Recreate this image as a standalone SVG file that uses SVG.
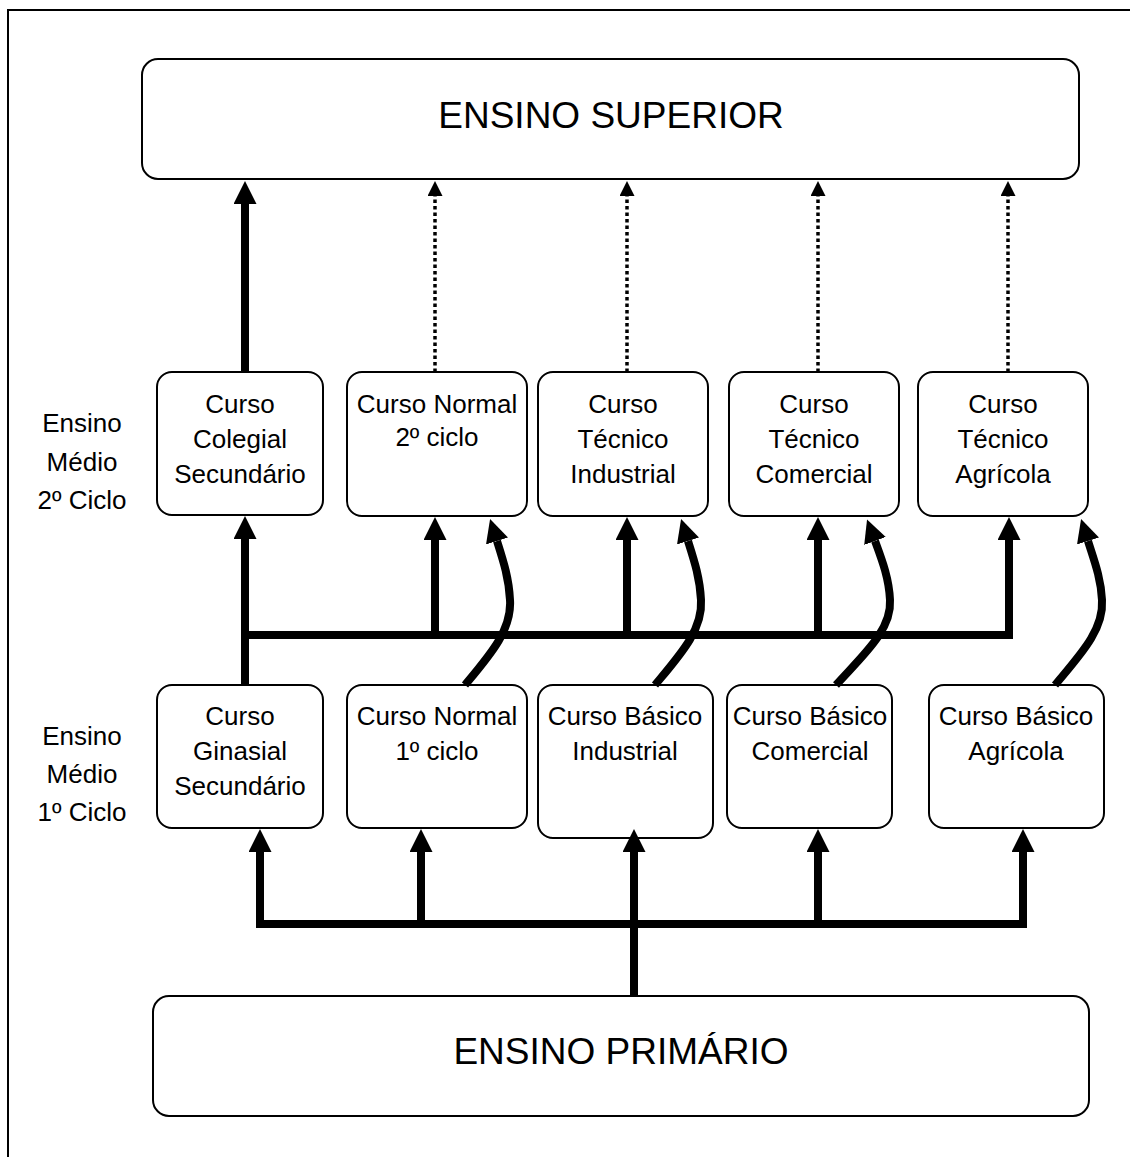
<svg xmlns="http://www.w3.org/2000/svg" width="1130" height="1157" viewBox="0 0 1130 1157">
<style>
.box{fill:#fff;stroke:#000;stroke-width:2}
.t{font-family:"Liberation Sans",Arial,Helvetica,sans-serif;font-size:26px;fill:#000;text-anchor:middle}
.big{font-size:37px}
.thick{fill:none;stroke:#000;stroke-width:8}
.dot{fill:none;stroke:#000;stroke-width:3.5;stroke-dasharray:3.5 3}
</style>
<defs>
<marker id="ah" markerUnits="userSpaceOnUse" markerWidth="23" markerHeight="23" viewBox="0 0 23 23" refX="0" refY="11.5" orient="auto"><path d="M0,0 L23,11.5 L0,23 z" fill="#000"/></marker>
<marker id="ahs" markerUnits="userSpaceOnUse" markerWidth="15" markerHeight="15" viewBox="0 0 15 15" refX="0" refY="7.5" orient="auto"><path d="M0,0 L15,7.5 L0,15 z" fill="#000"/></marker>
</defs>
<rect x="0" y="0" width="1130" height="1157" fill="#fff"/>
<rect x="8" y="10" width="1200" height="1200" fill="none" stroke="#000" stroke-width="2"/>

<g id="labels">
<text class="t" x="82" y="432">Ensino</text>
<text class="t" x="82" y="471">Médio</text>
<text class="t" x="82" y="509">2º Ciclo</text>
<text class="t" x="82" y="745">Ensino</text>
<text class="t" x="82" y="783">Médio</text>
<text class="t" x="82" y="821">1º Ciclo</text>
</g>

<g id="superior"><rect class="box" x="142" y="59" width="937" height="120" rx="16"/><text class="t big" x="611" y="128">ENSINO SUPERIOR</text></g>
<g id="primario"><rect class="box" x="153" y="996" width="936" height="120" rx="16"/><text class="t big" x="621" y="1064">ENSINO PRIMÁRIO</text></g>

<g id="colegial"><rect class="box" x="157" y="372" width="166" height="143" rx="15"/><text class="t" x="240" y="413">Curso</text><text class="t" x="240" y="448">Colegial</text><text class="t" x="240" y="483">Secundário</text></g>
<g id="normal2"><rect class="box" x="347" y="372" width="180" height="144" rx="15"/><text class="t" x="437" y="413">Curso Normal</text><text class="t" x="437" y="446">2º ciclo</text></g>
<g id="tecind"><rect class="box" x="538" y="372" width="170" height="144" rx="15"/><text class="t" x="623" y="413">Curso</text><text class="t" x="623" y="448">Técnico</text><text class="t" x="623" y="483">Industrial</text></g>
<g id="teccom"><rect class="box" x="729" y="372" width="170" height="144" rx="15"/><text class="t" x="814" y="413">Curso</text><text class="t" x="814" y="448">Técnico</text><text class="t" x="814" y="483">Comercial</text></g>
<g id="tecagr"><rect class="box" x="918" y="372" width="170" height="144" rx="15"/><text class="t" x="1003" y="413">Curso</text><text class="t" x="1003" y="448">Técnico</text><text class="t" x="1003" y="483">Agrícola</text></g>

<g id="ginasial"><rect class="box" x="157" y="685" width="166" height="143" rx="15"/><text class="t" x="240" y="725">Curso</text><text class="t" x="240" y="760">Ginasial</text><text class="t" x="240" y="795">Secundário</text></g>
<g id="normal1"><rect class="box" x="347" y="685" width="180" height="143" rx="15"/><text class="t" x="437" y="725">Curso Normal</text><text class="t" x="437" y="760">1º ciclo</text></g>
<g id="basind"><rect class="box" x="538" y="685" width="175" height="153" rx="15"/><text class="t" x="625" y="725">Curso Básico</text><text class="t" x="625" y="760">Industrial</text></g>
<g id="bascom"><rect class="box" x="727" y="685" width="165" height="143" rx="15"/><text class="t" x="810" y="725">Curso Básico</text><text class="t" x="810" y="760">Comercial</text></g>
<g id="basagr"><rect class="box" x="929" y="685" width="175" height="143" rx="15"/><text class="t" x="1016" y="725">Curso Básico</text><text class="t" x="1016" y="760">Agrícola</text></g>

<g id="connectors">
<path class="thick" d="M245 372 V204" marker-end="url(#ah)"/>
<path class="dot" d="M435 372 V196" marker-end="url(#ahs)"/>
<path class="dot" d="M627 372 V196" marker-end="url(#ahs)"/>
<path class="dot" d="M818 372 V196" marker-end="url(#ahs)"/>
<path class="dot" d="M1008 372 V196" marker-end="url(#ahs)"/>

<path class="thick" d="M245 685 V539" marker-end="url(#ah)"/>
<path class="thick" d="M241 635 H1013"/>
<path class="thick" d="M435 635 V540" marker-end="url(#ah)"/>
<path class="thick" d="M627 635 V540" marker-end="url(#ah)"/>
<path class="thick" d="M818 635 V540" marker-end="url(#ah)"/>
<path class="thick" d="M1009 635 V540" marker-end="url(#ah)"/>

<path class="thick" d="M465 685 C490 655 512 630 510 600 C509 578 503 560 497 541" marker-end="url(#ah)"/>
<path class="thick" d="M655 685 C680 655 703 630 701 600 C700 578 694 560 688 541" marker-end="url(#ah)"/>
<path class="thick" d="M836 685 C863 655 892 630 890 600 C889 578 882 560 875 541" marker-end="url(#ah)"/>
<path class="thick" d="M1055 685 C1080 655 1104 630 1102 600 C1101 578 1094 560 1088 541" marker-end="url(#ah)"/>

<path class="thick" d="M634 996 V852" marker-end="url(#ah)"/>
<path class="thick" d="M256 924 H1027"/>
<path class="thick" d="M260 924 V852" marker-end="url(#ah)"/>
<path class="thick" d="M421 924 V852" marker-end="url(#ah)"/>
<path class="thick" d="M818 924 V852" marker-end="url(#ah)"/>
<path class="thick" d="M1023 924 V852" marker-end="url(#ah)"/>
</g>
</svg>
